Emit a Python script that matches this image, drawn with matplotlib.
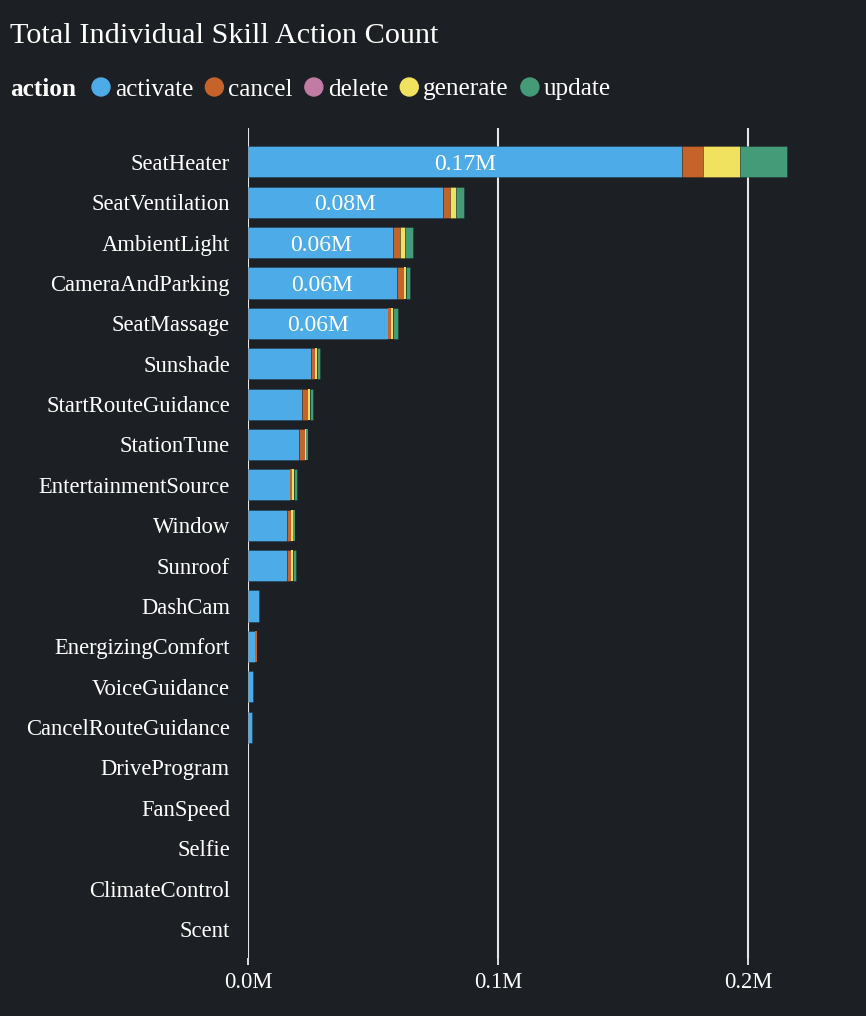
import matplotlib
matplotlib.use('Agg')
import matplotlib.pyplot as plt
from matplotlib.patches import Ellipse
from matplotlib.ticker import FuncFormatter
import numpy as np

# Data (counts per action)
skills = ['SeatHeater', 'SeatVentilation', 'AmbientLight', 'CameraAndParking', 'SeatMassage',
          'Sunshade', 'StartRouteGuidance', 'StationTune', 'EntertainmentSource', 'Window',
          'Sunroof', 'DashCam', 'EnergizingComfort', 'VoiceGuidance', 'CancelRouteGuidance',
          'DriveProgram', 'FanSpeed', 'Selfie', 'ClimateControl', 'Scent']
activate = [173500, 77800, 58100, 59500, 56100, 25200, 21700, 20300, 16800, 15600,
            15600, 4400, 2900, 1900, 1700, 150, 100, 80, 60, 30]
cancel = [8300, 2800, 2700, 2700, 1000, 1600, 2100, 2300, 700, 1600,
          1500, 0, 700, 50, 0, 0, 0, 0, 0, 0]
delete = [200, 100, 50, 50, 50, 50, 50, 0, 0, 0, 0, 0, 0, 0, 0, 0, 0, 0, 0, 0]
generate = [14600, 2600, 2000, 900, 800, 800, 900, 500, 900, 800,
            800, 0, 0, 0, 0, 0, 0, 0, 0, 0]
update = [19000, 3200, 3300, 1800, 2000, 1300, 1100, 800, 1100, 900,
          1200, 0, 0, 0, 0, 0, 0, 0, 0, 0]
actions = ['activate', 'cancel', 'delete', 'generate', 'update']
series = [activate, cancel, delete, generate, update]
colors = ['#4dabe8', '#c6632a', '#c27ba3', '#f0e25f', '#449b77']

bg = '#1c1f23'
fg = '#ffffff'
plt.rcParams['font.family'] = ['Liberation Serif', 'DejaVu Serif']

W, H = 866, 1016
fig = plt.figure(figsize=(W / 100, H / 100), dpi=100, facecolor=bg)
ax = fig.add_axes([248 / W, 1 - 958 / H, (856 - 248) / W, (958 - 128) / H])
ax.set_facecolor(bg)

y = np.arange(len(skills))
left = np.zeros(len(skills))
for name, vals, col in zip(actions, series, colors):
    vals = np.array(vals, dtype=float)
    # no outline on the sub-pixel segments so the zero gridline stays visible
    lw = np.where(vals > 1000, 0.6, 0.0)
    ax.barh(y, vals, left=left, height=0.77, color=col, edgecolor=(0, 0, 0, 0.25),
            linewidth=lw, zorder=3)
    left += vals

# Value labels on the big activate bars
for i, v in enumerate(activate):
    if v > 50000:
        ax.text(v / 2, i, f'{v / 1e6:.2f}M', color=fg, ha='center', va='center_baseline',
                fontsize=17, zorder=4)

ax.set_xlim(0, (856 - 248) * 400)
ax.set_ylim(19.72, -0.84)
ax.set_xticks([0, 100000, 200000])
ax.xaxis.set_major_formatter(FuncFormatter(lambda x, p: f'{x / 1e6:.1f}M'))
ax.set_yticks(y)
ax.set_yticklabels(skills)
ax.grid(axis='x', color='#e6e6e6', linewidth=1.5, zorder=0)
ax.tick_params(axis='x', colors=fg, length=5, width=1.2, pad=5, labelsize=16.3)
ax.tick_params(axis='y', colors=fg, length=0, pad=13, labelsize=16.3)
for s in ax.spines.values():
    s.set_visible(False)

# Title
fig.text(10 / W, 1 - 33 / H, 'Total Individual Skill Action Count', color=fg,
         fontsize=21.8, ha='left', va='center_baseline')

# Legend row
renderer = fig.canvas.get_renderer()
ly = 1 - 87 / H
t = fig.text(10 / W, ly, 'action', color=fg, fontsize=18.2, fontweight='bold',
             ha='left', va='center_baseline')
x = t.get_window_extent(renderer).x1 + 16
for name, col in zip(actions, colors):
    fig.add_artist(Ellipse(((x + 9) / W, ly), 18 / W, 18 / H, color=col,
                           transform=fig.transFigure))
    t = fig.text((x + 23) / W, ly, name, color=fg, fontsize=18.2, ha='left',
                 va='center_baseline')
    x = t.get_window_extent(renderer).x1 + 12

fig.savefig('out.png', dpi=100, facecolor=bg)
